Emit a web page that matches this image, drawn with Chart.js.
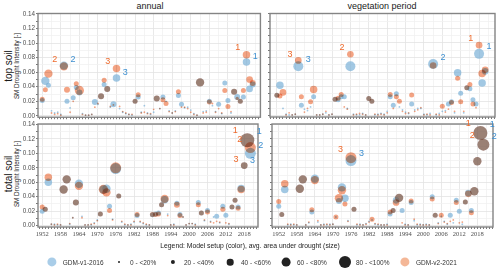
<!DOCTYPE html>
<html>
<head>
<meta charset="utf-8">
<script src="https://cdn.jsdelivr.net/npm/chart.js@4.4.1/dist/chart.umd.min.js"></script>
<style>
  body { margin: 0; width: 500px; height: 272px; background: #fff; position: relative; overflow: hidden;
         font-family: "Liberation Sans", Arial, sans-serif; color: #1a1a1a; }
  canvas { position: absolute; }
  .t { position: absolute; white-space: nowrap; transform: translate(-50%, -50%); }
  .rot { transform: translate(-50%, -50%) rotate(-90deg); }
  .dot { position: absolute; border-radius: 50%; transform: translate(-50%, -50%); }
  .lt { position: absolute; font-size: 6.5px; transform: translateY(-50%); white-space: nowrap; color: #333; }
</style>
</head>
<body>
<div class="t" style="left:150px;top:6px;font-size:9px">annual</div>
<div class="t" style="left:382px;top:6px;font-size:9px">vegetation period</div>
<div class="t rot" style="left:8px;top:66px;font-size:10px">top soil</div>
<div class="t rot" style="left:8px;top:174px;font-size:10px">total soil</div>
<div class="t rot" style="left:16px;top:66px;font-size:6.3px">SM Drought Intensity [-]</div>
<div class="t rot" style="left:16px;top:174px;font-size:6.3px">SM Drought Intensity [-]</div>

<canvas id="tl" width="249" height="114" style="left:16px;top:8px"></canvas>
<canvas id="tr" width="235" height="114" style="left:265px;top:8px"></canvas>
<canvas id="bl" width="249" height="124" style="left:16px;top:117px"></canvas>
<canvas id="br" width="235" height="124" style="left:265px;top:117px"></canvas>

<div class="t" style="left:250px;top:245px;font-size:6.8px;color:#222">Legend: Model setup (color), avg. area under drought (size)</div>
<div id="legend"></div>

<script>
// years 1952 - 2020
const years = [];
for (let y = 1952; y <= 2020; y++) years.push(y);

// top soil, annual
const topAnnualV1 = [
  0.021, 0.048, 0.042, 0.007, 0.004, 0.005, 0.002, 0.069, 0.020, 0.011,
  0.025, 0.039, 0.032, 0.003, 0.001, 0.001, 0.002, 0.019, 0.016, 0.027,
  0.043, 0.037, 0.012, 0.016, 0.052, 0.010, 0.005, 0.003, 0.002, 0.001,
  0.020, 0.026, 0.005, 0.014, 0.004, 0.002, 0.005, 0.024, 0.010, 0.026,
  0.020, 0.007, 0.004, 0.007, 0.028, 0.016, 0.011, 0.012, 0.008, 0.003,
  0.001, 0.046, 0.006, 0.007, 0.020, 0.014, 0.006, 0.016, 0.003, 0.045,
  0.021, 0.004, 0.033, 0.026, 0.020, 0.026, 0.074, 0.037, 0.043
];
const topAnnualV1Area = [
  30, 50, 30, 10, 10, 10, 10, 50, 30, 10,
  30, 30, 36, 10, 10, 10, 10, 36, 10, 36,
  30, 36, 10, 36, 45, 10, 10, 10, 10, 10,
  30, 30, 10, 10, 10, 10, 10, 36, 10, 30,
  10, 10, 10, 10, 30, 30, 10, 10, 10, 10,
  10, 50, 10, 10, 30, 10, 10, 30, 10, 30,
  30, 10, 36, 36, 30, 30, 45, 40, 36
];
const topAnnualV2 = [
  0.023, 0.036, 0.058, 0.004, 0.002, 0.003, 0.001, 0.068, 0.036, 0.005,
  0.020, 0.044, 0.035, 0.002, 0.001, 0.001, 0.002, 0.012, 0.017, 0.027,
  0.049, 0.037, 0.013, 0.015, 0.065, 0.013, 0.006, 0.004, 0.002, 0.002,
  0.020, 0.029, 0.004, 0.005, 0.003, 0.003, 0.009, 0.024, 0.010, 0.022,
  0.017, 0.006, 0.004, 0.006, 0.033, 0.012, 0.012, 0.010, 0.005, 0.002,
  0.001, 0.046, 0.004, 0.005, 0.019, 0.017, 0.005, 0.010, 0.004, 0.035,
  0.013, 0.006, 0.033, 0.024, 0.020, 0.035, 0.084, 0.050, 0.045
];
const topAnnualV2Area = [
  30, 30, 50, 10, 10, 10, 10, 50, 36, 10,
  10, 30, 55, 10, 10, 10, 10, 10, 10, 36,
  30, 36, 10, 10, 45, 10, 10, 10, 10, 10,
  30, 30, 10, 10, 10, 10, 10, 36, 10, 30,
  30, 10, 10, 10, 30, 10, 10, 10, 10, 10,
  10, 50, 10, 10, 30, 10, 10, 10, 10, 30,
  30, 10, 36, 20, 30, 30, 45, 40, 36
];

// top soil, vegetation period
const topVegV1 = [
  0.028, 0.042, 0.010, 0.002, 0.001, 0.001, 0.002, 0.068, 0.0145, 0.009,
  0.007, 0.012, 0.026, 0.001, 0.001, 0.002, 0.004, 0.001, 0.002, 0.0225,
  0.022, 0.026, 0.026, 0.010, 0.068, 0.002, 0.001, 0.001, 0.003, 0.001,
  0.0235, 0.020, 0.001, 0.002, 0.003, 0.002, 0.006, 0.026, 0.0145, 0.030,
  0.012, 0.008, 0.005, 0.003, 0.016, 0.008, 0.010, 0.010, 0.002, 0.001,
  0.003, 0.071, 0.001, 0.003, 0.006, 0.007, 0.016, 0.019, 0.004, 0.059,
  0.031, 0.004, 0.0385, 0.037, 0.022, 0.016, 0.085, 0.045, 0.061
];
const topVegV1Area = [
  30, 45, 10, 10, 10, 10, 10, 60, 30, 10,
  10, 10, 30, 10, 10, 10, 10, 10, 10, 30,
  30, 30, 30, 10, 60, 10, 10, 10, 10, 10,
  30, 30, 10, 10, 10, 10, 10, 30, 30, 30,
  10, 10, 10, 10, 30, 10, 10, 10, 10, 10,
  10, 60, 10, 10, 10, 10, 30, 30, 10, 45,
  30, 10, 30, 30, 30, 30, 60, 45, 40
];
const topVegV2 = [
  0.028, 0.027, 0.032, 0.001, 0.004, 0.001, 0.002, 0.076, 0.026, 0.005,
  0.010, 0.019, 0.036, 0.001, 0.001, 0.002, 0.006, 0.001, 0.002, 0.0225,
  0.024, 0.029, 0.012, 0.009, 0.0845, 0.001, 0.002, 0.003, 0.002, 0.001,
  0.0235, 0.020, 0.002, 0.001, 0.002, 0.001, 0.004, 0.029, 0.010, 0.026,
  0.020, 0.006, 0.003, 0.004, 0.0285, 0.006, 0.008, 0.011, 0.001, 0.002,
  0.001, 0.069, 0.002, 0.001, 0.013, 0.005, 0.009, 0.018, 0.006, 0.0515,
  0.019, 0.006, 0.0385, 0.043, 0.016, 0.011, 0.097, 0.058, 0.063
];
const topVegV2Area = [
  30, 30, 40, 10, 10, 10, 10, 40, 30, 10,
  10, 30, 45, 10, 10, 10, 10, 10, 10, 30,
  30, 30, 10, 10, 40, 10, 10, 10, 10, 10,
  30, 30, 10, 10, 10, 10, 10, 30, 10, 30,
  30, 10, 10, 10, 30, 10, 10, 10, 10, 10,
  10, 40, 10, 10, 30, 10, 10, 30, 10, 30,
  30, 10, 30, 30, 30, 10, 40, 45, 40
];

// total soil, annual
const totalAnnualV1 = [
  0.020, 0.0226, 0.060, 0.002, 0.002, 0.001, 0.001, 0.050, 0.064, 0.002,
  0.011, 0.032, 0.058, 0.013, 0.001, 0.001, 0.001, 0.004, 0.008, 0.016,
  0.050, 0.051, 0.027, 0.009, 0.079, 0.041, 0.005, 0.001, 0.001, 0.002,
  0.005, 0.014, 0.005, 0.003, 0.001, 0.001, 0.015, 0.016, 0.0176, 0.029,
  0.036, 0.016, 0.001, 0.002, 0.031, 0.0154, 0.012, 0.001, 0.003, 0.003,
  0.002, 0.032, 0.0176, 0.007, 0.021, 0.006, 0.012, 0.013, 0.004, 0.027,
  0.0145, 0.002, 0.0258, 0.035, 0.0258, 0.0515, 0.083, 0.118, 0.100
];
const totalAnnualV1Area = [
  30, 30, 45, 10, 10, 10, 10, 50, 50, 10,
  10, 36, 50, 10, 10, 10, 10, 10, 10, 30,
  50, 50, 30, 10, 66, 30, 10, 10, 10, 10,
  10, 30, 10, 10, 10, 10, 30, 30, 30, 30,
  45, 10, 10, 10, 30, 30, 10, 10, 10, 10,
  10, 30, 30, 10, 30, 10, 10, 30, 10, 30,
  30, 10, 30, 30, 30, 45, 40, 84, 66
];
const totalAnnualV2 = [
  0.026, 0.0226, 0.067, 0.002, 0.001, 0.002, 0.001, 0.050, 0.064, 0.003,
  0.011, 0.032, 0.055, 0.011, 0.001, 0.001, 0.002, 0.003, 0.007, 0.016,
  0.050, 0.046, 0.021, 0.008, 0.080, 0.041, 0.006, 0.002, 0.001, 0.001,
  0.006, 0.0154, 0.006, 0.004, 0.002, 0.001, 0.0154, 0.0154, 0.016, 0.029,
  0.037, 0.014, 0.001, 0.001, 0.029, 0.014, 0.012, 0.001, 0.003, 0.003,
  0.001, 0.029, 0.0176, 0.008, 0.019, 0.005, 0.004, 0.006, 0.005, 0.0226,
  0.004, 0.003, 0.0258, 0.035, 0.024, 0.050, 0.083, 0.118, 0.108
];
const totalAnnualV2Area = [
  30, 30, 45, 10, 10, 10, 10, 50, 50, 10,
  10, 36, 50, 10, 10, 10, 10, 10, 10, 30,
  56, 50, 30, 10, 66, 30, 10, 10, 10, 10,
  10, 30, 10, 10, 10, 10, 30, 30, 30, 30,
  50, 10, 10, 10, 36, 30, 10, 10, 10, 10,
  10, 30, 30, 10, 30, 10, 10, 10, 10, 30,
  10, 10, 30, 30, 30, 45, 40, 84, 66
];

// total soil, vegetation period
const totalVegV1 = [
  0.027, 0.0155, 0.050, 0.001, 0.002, 0.001, 0.001, 0.051, 0.064, 0.001,
  0.004, 0.019, 0.065, 0.005, 0.001, 0.002, 0.001, 0.002, 0.002, 0.012,
  0.034, 0.053, 0.038, 0.007, 0.090, 0.0227, 0.001, 0.002, 0.001, 0.003,
  0.006, 0.008, 0.002, 0.001, 0.001, 0.001, 0.002, 0.016, 0.021, 0.035,
  0.0385, 0.021, 0.002, 0.001, 0.032, 0.007, 0.001, 0.002, 0.001, 0.002,
  0.001, 0.040, 0.0145, 0.004, 0.013, 0.006, 0.002, 0.0145, 0.004, 0.035,
  0.020, 0.002, 0.0327, 0.045, 0.021, 0.0476, 0.089, 0.128, 0.112
];
const totalVegV1Area = [
  30, 30, 45, 10, 10, 10, 10, 50, 50, 10,
  10, 30, 50, 10, 10, 10, 10, 10, 10, 10,
  36, 50, 45, 10, 66, 30, 10, 10, 10, 10,
  10, 10, 10, 10, 10, 10, 10, 30, 30, 40,
  50, 30, 10, 10, 30, 10, 10, 10, 10, 10,
  10, 30, 30, 10, 10, 10, 10, 30, 10, 30,
  30, 10, 30, 40, 30, 50, 50, 84, 72
];
const totalVegV2 = [
  0.0336, 0.0155, 0.058, 0.002, 0.001, 0.002, 0.001, 0.051, 0.064, 0.001,
  0.005, 0.022, 0.063, 0.007, 0.001, 0.001, 0.002, 0.001, 0.002, 0.012,
  0.038, 0.049, 0.030, 0.006, 0.094, 0.0227, 0.002, 0.001, 0.001, 0.002,
  0.005, 0.009, 0.003, 0.002, 0.001, 0.001, 0.001, 0.019, 0.021, 0.032,
  0.0385, 0.004, 0.001, 0.001, 0.034, 0.009, 0.002, 0.001, 0.001, 0.001,
  0.001, 0.037, 0.0145, 0.003, 0.0145, 0.005, 0.003, 0.006, 0.008, 0.032,
  0.004, 0.005, 0.0327, 0.044, 0.018, 0.0476, 0.089, 0.128, 0.112
];
const totalVegV2Area = [
  30, 30, 45, 10, 10, 10, 10, 50, 50, 10,
  10, 30, 50, 10, 10, 10, 10, 10, 10, 30,
  50, 50, 30, 10, 66, 30, 10, 10, 10, 10,
  10, 30, 10, 10, 10, 10, 10, 30, 30, 40,
  50, 10, 10, 10, 30, 10, 10, 10, 10, 10,
  10, 30, 30, 10, 30, 10, 10, 10, 10, 30,
  10, 10, 30, 40, 30, 50, 50, 84, 72
];

// ranked drought years: [year, rank]
const ranksTopAnnualV1 = [[2018, 1], [1959, 2], [1976, 3]];
const ranksTopAnnualV2 = [[2018, 1], [1959, 2], [1976, 3]];
const ranksTopVegV1 = [[2018, 1], [2003, 2], [1959, 3]];
const ranksTopVegV2 = [[2018, 1], [1976, 2], [1959, 3]];
const ranksTotalAnnualV1 = [[2019, 1], [2020, 2], [2018, 3]];
const ranksTotalAnnualV2 = [[2019, 1], [2020, 2], [2018, 3]];
const ranksTotalVegV1 = [[2019, 1], [2020, 2], [1976, 3]];
const ranksTotalVegV2 = [[2019, 1], [2020, 2], [1976, 3]];

const seriesNames = ['GDM-v1-2016', 'GDM-v2-2021'];
const sizeClasses = ['0 - <20%', '20 - <40%', '40 - <60%', '60 - <80%', '80 - <100%'];

const blueFill = 'rgba(118, 174, 214, 0.68)';
const orangeFill = 'rgba(240, 140, 100, 0.8)';
const blueText = '#3d8fd0';
const orangeText = '#ee6a2c';
const gridMajor = '#e3e3e3';
const gridMinor = '#f1f1f1';

const radius = area => Math.max(0.9, area / 12);

const toPoints = (vals, areas) => vals.map((v, i) => ({ x: years[i], y: v, r: radius(areas[i]) }));

// second model is multiplied over the first so shared bubbles turn brown
const blendPlugin = {
  id: 'blend',
  beforeDatasetDraw(chart, args) {
    if (args.index === 1) {
      chart.ctx.save();
      chart.ctx.globalCompositeOperation = 'multiply';
    }
  },
  afterDatasetDraw(chart, args) {
    if (args.index === 1) chart.ctx.restore();
  }
};

const framePlugin = {
  id: 'frame',
  afterDatasetsDraw(chart) {
    const { ctx, chartArea: a } = chart;
    ctx.save();
    ctx.strokeStyle = '#848484';
    ctx.lineWidth = 1.4;
    ctx.strokeRect(a.left, a.top, a.right - a.left, a.bottom - a.top);
    ctx.restore();
  }
};

const rankPlugin = {
  id: 'ranks',
  afterDraw(chart) {
    const ctx = chart.ctx;
    ctx.save();
    ctx.font = '9px "Liberation Sans", Arial, sans-serif';
    ctx.textAlign = 'center';
    ctx.textBaseline = 'middle';
    chart.data.datasets.forEach((ds, d) => {
      const meta = chart.getDatasetMeta(d);
      ds.rankLabels.forEach(([year, rank]) => {
        const i = years.indexOf(year);
        const el = meta.data[i];
        const r = ds.data[i].r;
        const dx = d === 0 ? r + 5 : -(r + 5);
        const dy = d === 0 ? -(r + 2) : -(r + 3);
        ctx.fillStyle = d === 0 ? blueText : orangeText;
        ctx.fillText(String(rank), el.x + dx, el.y + dy);
      });
    });
    ctx.restore();
  }
};

function makePanel(id, v1, v1Area, v2, v2Area, ranks1, ranks2, left, bottom) {
  const xmin = left ? 1950.63 : 1949.76;
  const xmax = left ? 2022.5 : 2023.2;
  return new Chart(document.getElementById(id), {
    type: 'bubble',
    data: {
      datasets: [
        // higher order is drawn first, so the v2 bubbles sit on top
        { label: seriesNames[0], data: toPoints(v1, v1Area), backgroundColor: blueFill, borderWidth: 0, order: 2, rankLabels: ranks1 },
        { label: seriesNames[1], data: toPoints(v2, v2Area), backgroundColor: orangeFill, borderWidth: 0, order: 1, rankLabels: ranks2 }
      ]
    },
    options: {
      responsive: false,
      devicePixelRatio: 1,
      animation: false,
      events: [],
      layout: { padding: { top: bottom ? 5 : 5.5, right: left ? 2 : 3, left: 0, bottom: 0 } },
      plugins: { legend: { display: false }, tooltip: { enabled: false } },
      scales: {
        x: {
          type: 'linear',
          min: xmin,
          max: xmax,
          afterBuildTicks: s => { s.ticks = s.ticks.filter(t => Number.isInteger(t.value)); },
          afterFit: s => { s.height = bottom ? 14 : 4; },
          border: { display: false },
          grid: {
            color: c => {
              const k = c.tick ? c.tick.value - 1952 : 1;
              if (k % 6 === 0) return gridMajor;
              if (k % 3 === 0) return gridMinor;
              return 'rgba(0,0,0,0)';
            },
            lineWidth: 0.8,
            tickColor: '#555',
            tickLength: 2
          },
          ticks: {
            stepSize: 1,
            includeBounds: false,
            autoSkip: false,
            maxRotation: 0,
            padding: 1,
            color: '#4d4d4d',
            font: { size: 6.5, family: '"Liberation Serif", "Times New Roman", serif' },
            callback: v => (bottom && (v - 1952) % 6 === 0 && v >= 1952 && v <= 2018) ? String(v) : ''
          }
        },
        y: {
          min: -0.0018,
          max: 0.1405,
          afterBuildTicks: s => { s.ticks = s.ticks.filter(t => t.value > -0.0005 && t.value < 0.1403); },
          afterFit: s => { s.width = left ? 22 : 2; },
          border: { display: false },
          grid: {
            color: c => (c.tick && Math.round(c.tick.value * 100) % 2 === 0) ? gridMajor : gridMinor,
            lineWidth: 0.8,
            tickColor: '#555',
            tickLength: 2
          },
          ticks: {
            stepSize: 0.01,
            includeBounds: false,
            autoSkip: false,
            padding: 1,
            color: '#4d4d4d',
            font: { size: 6.3, family: '"Liberation Sans", Arial, sans-serif' },
            callback: v => (left && Math.round(v * 100) % 2 === 0) ? v.toFixed(2) : ''
          }
        }
      }
    },
    plugins: [blendPlugin, framePlugin, rankPlugin]
  });
}

makePanel('tl', topAnnualV1, topAnnualV1Area, topAnnualV2, topAnnualV2Area, ranksTopAnnualV1, ranksTopAnnualV2, true, false);
makePanel('tr', topVegV1, topVegV1Area, topVegV2, topVegV2Area, ranksTopVegV1, ranksTopVegV2, false, false);
makePanel('bl', totalAnnualV1, totalAnnualV1Area, totalAnnualV2, totalAnnualV2Area, ranksTotalAnnualV1, ranksTotalAnnualV2, true, true);
makePanel('br', totalVegV1, totalVegV1Area, totalVegV2, totalVegV2Area, ranksTotalVegV1, ranksTotalVegV2, false, true);

// bottom legend
const legendItems = [
  { x: 51.7, r: 4.6, color: '#a9cde8', text: seriesNames[0] },
  { x: 119, r: 1, color: '#222', text: sizeClasses[0] },
  { x: 173, r: 2.1, color: '#222', text: sizeClasses[1] },
  { x: 230, r: 3.3, color: '#222', text: sizeClasses[2] },
  { x: 286, r: 4.4, color: '#222', text: sizeClasses[3] },
  { x: 345, r: 6, color: '#222', text: sizeClasses[4] },
  { x: 405, r: 4.6, color: '#f4b797', text: seriesNames[1] }
];
const legend = document.getElementById('legend');
legendItems.forEach(it => {
  const d = document.createElement('div');
  d.className = 'dot';
  d.style.cssText = `left:${it.x}px;top:262px;width:${it.r * 2}px;height:${it.r * 2}px;background:${it.color}`;
  legend.appendChild(d);
  const t = document.createElement('div');
  t.className = 'lt';
  t.style.cssText = `left:${it.x + 11}px;top:262px`;
  t.textContent = it.text;
  legend.appendChild(t);
});
</script>
</body>
</html>
